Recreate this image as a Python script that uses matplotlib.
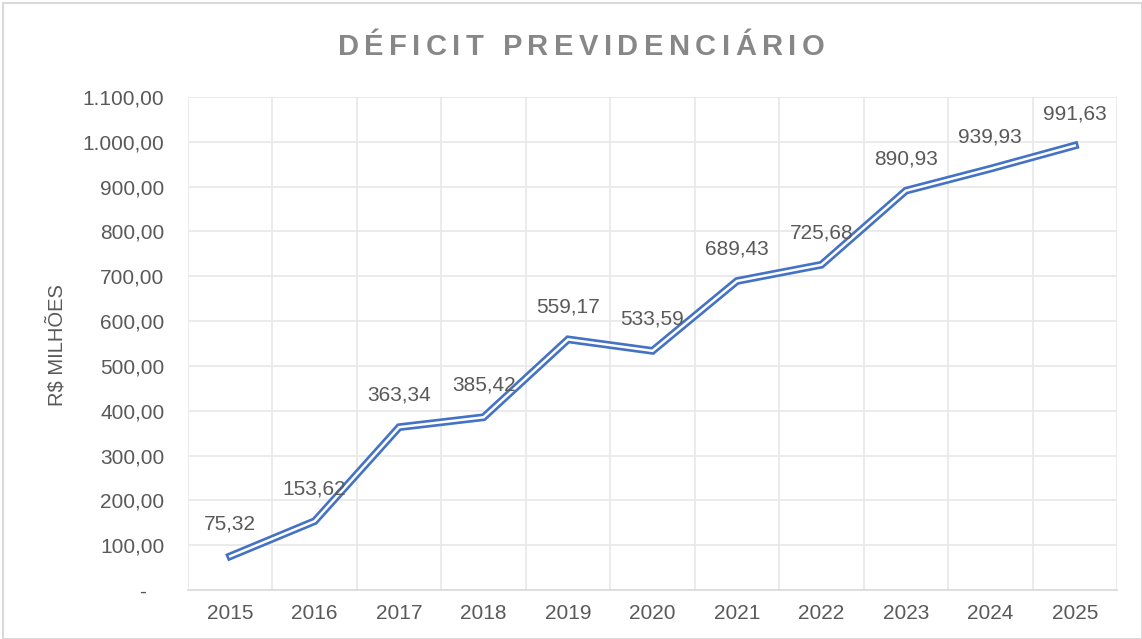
#!/usr/bin/env python3
import numpy as np
import matplotlib
matplotlib.use("Agg")
import matplotlib.pyplot as plt
from matplotlib.patches import Rectangle

# data (R$ milhoes)
anos = ["2015", "2016", "2017", "2018", "2019", "2020",
        "2021", "2022", "2023", "2024", "2025"]
deficit = [75.32, 153.62, 363.34, 385.42, 559.17, 533.59,
           689.43, 725.68, 890.93, 939.93, 991.63]
y_ticks = [0, 100, 200, 300, 400, 500, 600, 700, 800, 900, 1000, 1100]

titulo = "DÉFICIT PREVIDENCIÁRIO"
ylabel = "R$ MILHÕES"

azul = "#4472C4"
cinza_txt = "#595959"
cinza_tit = "#878787"
cinza_grid = "#e8e8e8"

plt.rcParams["font.family"] = ["Liberation Sans", "DejaVu Sans"]


def br(v):
    # 1,100.00 -> 1.100,00
    s = f"{v:,.2f}"
    return s.replace(",", "X").replace(".", ",").replace("X", ".")


def spaced_text(fig, text, cx, cy, width, fontsize, **kw):
    # matplotlib has no letter spacing, so place the letters one by one
    r = fig.canvas.get_renderer()
    ws = []
    for ch in text:
        if ch == " ":
            ws.append(0.28 * fontsize * fig.dpi / 72)
            continue
        t = fig.text(0, 0, ch, fontsize=fontsize, **kw)
        ws.append(t.get_window_extent(r).width)
        t.remove()
    gap = (width - sum(ws)) / (len(text) - 1)
    W, H = fig.get_size_inches() * fig.dpi
    x = cx - width / 2
    for ch, w in zip(text, ws):
        fig.text(x / W, 1 - cy / H, ch, ha="left", va="center", fontsize=fontsize, **kw)
        x += w + gap


fig = plt.figure(figsize=(11.42, 6.39), dpi=100)
ax = fig.add_axes([188 / 1142, 1 - 590 / 639, (1117 - 188) / 1142, (590 - 97) / 639])

x = np.arange(len(anos))
# double line: thick blue with thin white core
ax.plot(x, deficit, color=azul, lw=5.6, solid_joinstyle="miter", zorder=3)
ax.plot(x, deficit, color="white", lw=1.8, solid_joinstyle="miter", zorder=4)

for xi, v in zip(x, deficit):
    ax.annotate(br(v), (xi, v), xytext=(0, 23), textcoords="offset points",
                ha="center", va="center", fontsize=15, color=cinza_txt, zorder=5)

ax.set_xlim(-0.5, len(anos) - 0.5)
ax.set_ylim(0, 1100)
ax.set_xticks(x)
ax.set_xticklabels(anos)
ax.set_xticks(np.arange(-0.5, len(anos), 1), minor=True)
ax.set_yticks(y_ticks)
ax.set_yticklabels(["-   " if v == 0 else br(v) for v in y_ticks])

ax.grid(True, axis="y", color=cinza_grid, lw=1.2)
ax.grid(True, axis="x", which="minor", color=cinza_grid, lw=1.2)
ax.set_axisbelow(True)
for s in ["top", "right", "left"]:
    ax.spines[s].set_visible(False)
ax.spines["bottom"].set_color("#d9d9d9")
ax.spines["bottom"].set_linewidth(1.2)

ax.tick_params(axis="both", which="both", length=0, labelsize=15, labelcolor=cinza_txt)
ax.tick_params(axis="x", pad=10)
ax.tick_params(axis="y", pad=17)

fig.text(57 / 1142, 1 - 345 / 639, ylabel, rotation=90, ha="center", va="center",
         fontsize=14.5, color=cinza_txt)

spaced_text(fig, titulo, 581, 47, 487, 21, fontweight="bold", color=cinza_tit)

# light frame around the chart area
fig.patches.append(Rectangle((3 / 1142, 0), 1 - 3 / 1142, 1 - 3 / 639, transform=fig.transFigure,
                             fill=False, edgecolor="#d9d9d9", lw=1.5))

fig.savefig("out.png", dpi=100)
